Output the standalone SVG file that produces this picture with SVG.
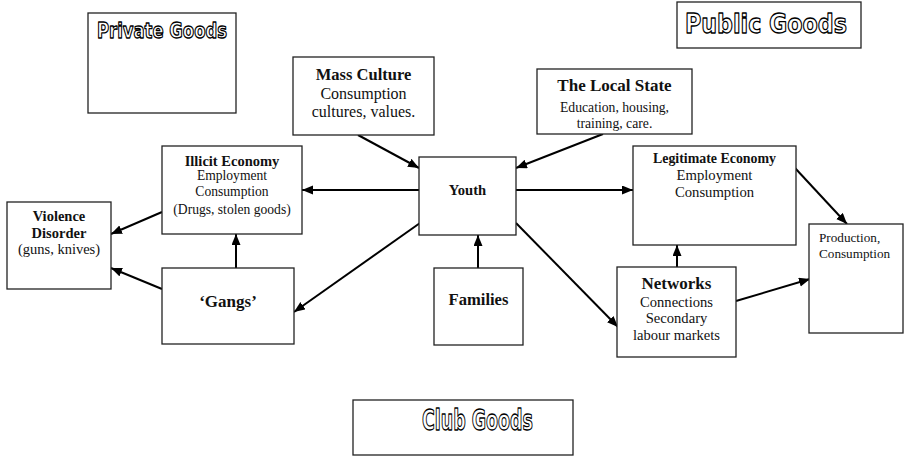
<svg xmlns="http://www.w3.org/2000/svg" width="905" height="459" viewBox="0 0 905 459">
  <defs>
    <marker id="arrow" markerUnits="userSpaceOnUse" markerWidth="12" markerHeight="10" refX="11" refY="4.5" orient="auto">
      <path d="M0,0 L11,4.5 L0,9 z" fill="#000"/>
    </marker>
    <style>
      .box { fill: #fff; stroke: #222; stroke-width: 1.3; }
      .conn line { stroke: #000; stroke-width: 2; marker-end: url(#arrow); }
      .t { font-family: "Liberation Serif", "Times New Roman", serif; fill: #111; text-anchor: middle; }
      .s { text-anchor: start; }
      .b { font-weight: bold; }
      .outline { font-family: "DejaVu Sans", "Liberation Sans", sans-serif; font-weight: bold; fill: #fff; stroke: #000; stroke-width: 1.3; stroke-linejoin: round; }
    </style>
  </defs>
  <rect width="905" height="459" fill="#fff"/>

  <!-- goods category frames -->
  <g id="private-goods">
    <rect class="box" x="88" y="13" width="148" height="100"/>
    <text class="outline" x="97" y="38" font-size="21" textLength="130" lengthAdjust="spacingAndGlyphs">Private Goods</text>
  </g>
  <g id="public-goods">
    <rect class="box" x="677" y="2" width="184" height="46"/>
    <text class="outline" x="685" y="33" font-size="27" textLength="162" lengthAdjust="spacingAndGlyphs">Public Goods</text>
  </g>
  <g id="club-goods">
    <rect class="box" x="353" y="400" width="220" height="55"/>
    <text class="outline" x="422" y="430" font-size="28" textLength="111" lengthAdjust="spacingAndGlyphs">Club Goods</text>
  </g>

  <!-- connectors -->
  <g id="connectors" class="conn">
    <line x1="358" y1="135" x2="419" y2="168"/>
    <line x1="603" y1="134" x2="516" y2="168"/>
    <line x1="419" y1="190" x2="302" y2="190"/>
    <line x1="516" y1="190" x2="633" y2="190"/>
    <line x1="420" y1="223" x2="294" y2="312"/>
    <line x1="516" y1="223" x2="618" y2="327"/>
    <line x1="478" y1="268" x2="478" y2="235"/>
    <line x1="236" y1="268" x2="236" y2="234"/>
    <line x1="162" y1="212" x2="111" y2="234"/>
    <line x1="162" y1="289" x2="111" y2="268"/>
    <line x1="677" y1="267" x2="677" y2="245"/>
    <line x1="795" y1="168" x2="847" y2="224"/>
    <line x1="736" y1="301" x2="810" y2="279"/>
  </g>

  <g id="mass-culture">
    <rect class="box" x="293" y="57" width="141" height="78"/>
    <text class="t b" x="363.5" y="80" font-size="16.5">Mass Culture</text>
    <text class="t" x="363.5" y="99" font-size="16">Consumption</text>
    <text class="t" x="363.5" y="117" font-size="16">cultures, values.</text>
  </g>

  <g id="local-state">
    <rect class="box" x="537" y="69" width="155" height="65"/>
    <text class="t b" x="614.5" y="91" font-size="17">The Local State</text>
    <text class="t" x="614.5" y="112" font-size="13.7">Education, housing,</text>
    <text class="t" x="614.5" y="128" font-size="13.7">training, care.</text>
  </g>

  <g id="youth">
    <rect class="box" x="419" y="157" width="97" height="78"/>
    <text class="t b" x="467.5" y="195" font-size="14.6">Youth</text>
  </g>

  <g id="illicit-economy">
    <rect class="box" x="162" y="146" width="140" height="88"/>
    <text class="t b" x="232" y="166" font-size="14.5">Illicit Economy</text>
    <text class="t" x="232" y="180" font-size="13.6">Employment</text>
    <text class="t" x="232" y="196" font-size="13.6">Consumption</text>
    <text class="t" x="232" y="214" font-size="13.6">(Drugs, stolen goods)</text>
  </g>

  <g id="violence-disorder">
    <rect class="box" x="7" y="202" width="104" height="87"/>
    <text class="t b" x="59" y="221" font-size="14.5">Violence</text>
    <text class="t b" x="59" y="238" font-size="14.5">Disorder</text>
    <text class="t" x="59" y="254" font-size="14.5">(guns, knives)</text>
  </g>

  <g id="gangs">
    <rect class="box" x="162" y="268" width="132" height="76"/>
    <text class="t b" x="228" y="307" font-size="17">‘Gangs’</text>
  </g>

  <g id="families">
    <rect class="box" x="434" y="268" width="89" height="77"/>
    <text class="t b" x="478.5" y="305" font-size="16.6">Families</text>
  </g>

  <g id="legitimate-economy">
    <rect class="box" x="633" y="146" width="163" height="99"/>
    <text class="t b" x="714.5" y="163" font-size="13.9">Legitimate Economy</text>
    <text class="t" x="714.5" y="180" font-size="14.7">Employment</text>
    <text class="t" x="714.5" y="197" font-size="14.7">Consumption</text>
  </g>

  <g id="networks">
    <rect class="box" x="617" y="267" width="119" height="90"/>
    <text class="t b" x="676.5" y="289" font-size="17">Networks</text>
    <text class="t" x="676.5" y="307" font-size="14.6">Connections</text>
    <text class="t" x="676.5" y="323" font-size="14.6">Secondary</text>
    <text class="t" x="676.5" y="340" font-size="14.6">labour markets</text>
  </g>

  <g id="production">
    <rect class="box" x="809" y="224" width="94" height="109"/>
    <text class="t s" x="819" y="242" font-size="13.2">Production,</text>
    <text class="t s" x="819" y="258" font-size="13.2">Consumption</text>
  </g>
</svg>
